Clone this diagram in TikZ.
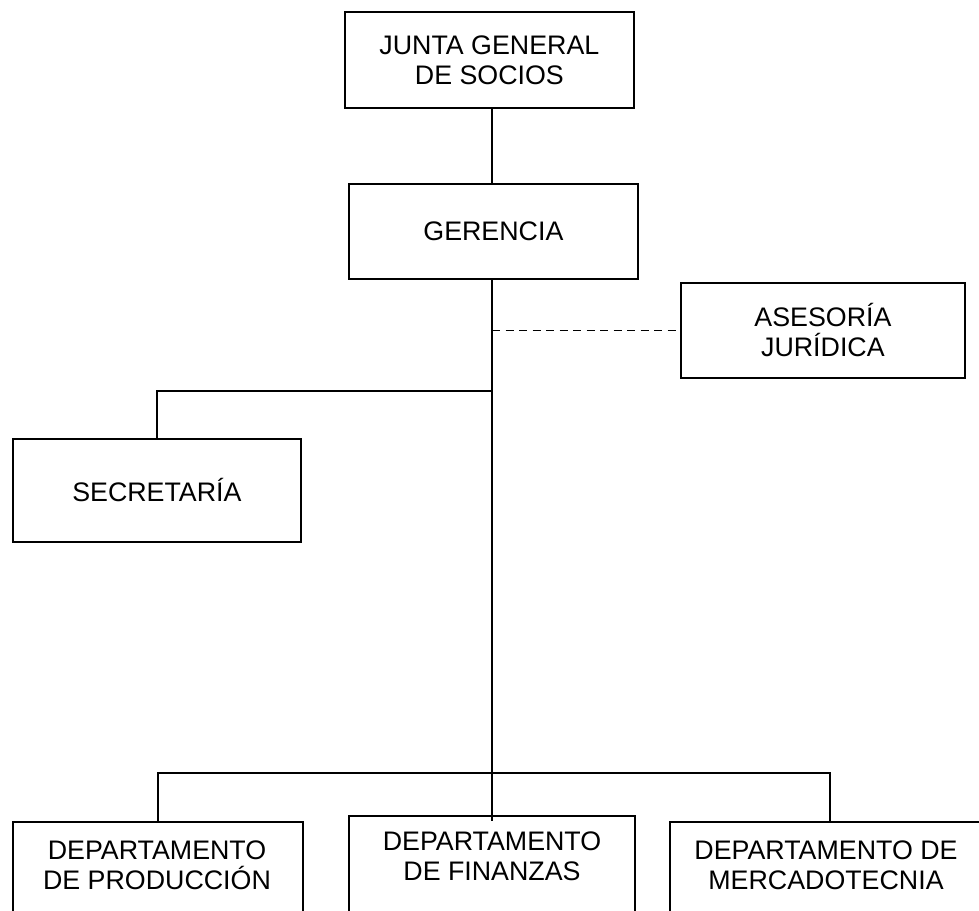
\documentclass[tikz,border=0pt]{standalone}
\usepackage{fontspec}
\setmainfont{Liberation Sans}
\begin{document}
\begin{tikzpicture}[x=1pt,y=-1pt,
  box/.style={draw=black, line width=1.8pt, rectangle, anchor=north west, inner sep=0pt},
  txt/.style={align=center, inner sep=0pt, font=\fontsize{26.8}{30}\selectfont},
  conn/.style={draw=black, line width=1.8pt},
  dconn/.style={draw=black, line width=1.8pt, dash pattern=on 8pt off 5.5pt}]
\useasboundingbox (0,0) rectangle (979,910);
\clip (0,0) rectangle (979,910);
\fill[white] (0,0) rectangle (979,910);

\node[box, minimum width=289pt, minimum height=96pt, txt] (junta) at (344,11) {JUNTA GENERAL\\DE SOCIOS};
\node[box, minimum width=289pt, minimum height=95pt, txt] (ger) at (348,183) {GERENCIA};
\node[box, minimum width=284pt, minimum height=95pt, txt] (ases) at (680,282) {ASESORÍA\\JURÍDICA};
\node[box, minimum width=288pt, minimum height=103pt, txt] (sec) at (12,438) {SECRETARÍA};

\node[box, minimum width=290pt, minimum height=95pt] (prod) at (12,821) {};
\node[box, minimum width=286pt, minimum height=100pt] (fin) at (348,815) {};
\node[box, minimum width=330pt, minimum height=95pt] (merc) at (669,821) {};
\node[txt] (prodt) at (157,865) {DEPARTAMENTO\\DE PRODUCCIÓN};
\node[txt] (fint) at (492,856) {DEPARTAMENTO\\DE FINANZAS};
\node[txt] (merct) at (826,865) {DEPARTAMENTO DE\\MERCADOTECNIA};

\coordinate (trunk) at (492,278);
\coordinate (secbus) at (492,391);
\coordinate (botbus) at (492,773);
\coordinate (trunkend) at (492,821);

\draw[conn] (junta.south -| trunk) -- (ger.north -| trunk);
\draw[conn] (trunk) -- (trunkend);
\draw[dconn] (trunk |- ases.west) -- (ases.west);
\draw[conn] (secbus) -- (secbus -| sec.north) -- (sec.north);
\draw[conn] (prod.north) -- (prod.north |- botbus) -- (830,773) -- (830,821);
\end{tikzpicture}
\end{document}
